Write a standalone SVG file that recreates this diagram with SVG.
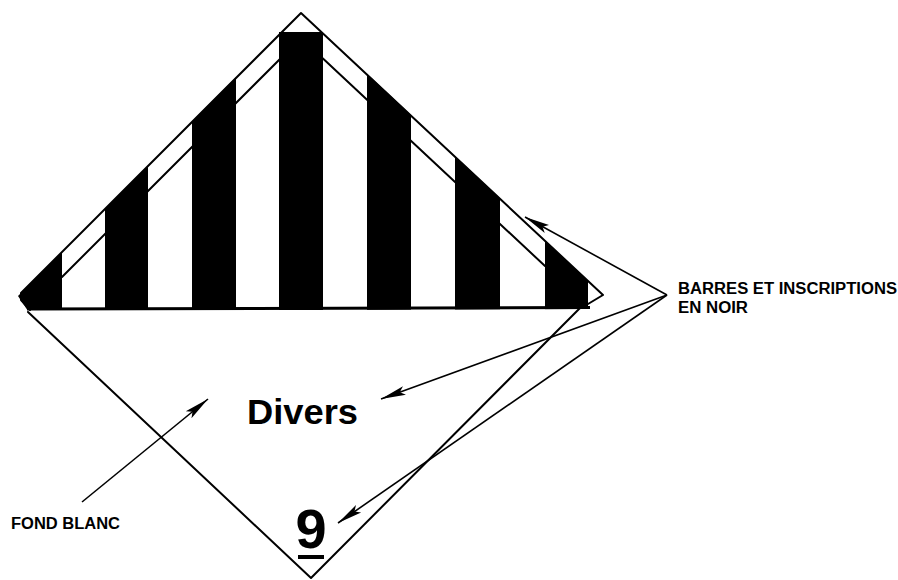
<svg xmlns="http://www.w3.org/2000/svg" width="898" height="580" viewBox="0 0 898 580">
  <style>
    .edge { fill: none; stroke: #000; stroke-width: 2; stroke-linejoin: round; stroke-linecap: round; }
    .bar { fill: #000; }
    .conn { fill: none; stroke: #000; stroke-width: 1.6; }
    .lbl { font-family: "Liberation Sans", Arial, sans-serif; font-weight: bold; fill: #000; }
  </style>
  <defs>
    <marker id="ah" markerUnits="userSpaceOnUse" markerWidth="26" markerHeight="12" viewBox="0 0 26 12" refX="25" refY="6" orient="auto">
      <path d="M0,1.5 L25,6 L0,10.5 L5,6 Z" fill="#000"/>
    </marker>
    <clipPath id="tri">
      <polygon points="18,296 301,12 603,295 588,309 28,311"/>
    </clipPath>
  </defs>
  <rect width="898" height="580" fill="#fff"/>

  <g id="placard">
    <g clip-path="url(#tri)">
      <rect class="bar" x="10" y="0" width="52" height="310"/>
      <rect class="bar" x="105" y="0" width="43" height="310"/>
      <rect class="bar" x="192" y="0" width="44" height="310"/>
      <rect class="bar" x="367" y="0" width="44" height="310"/>
      <rect class="bar" x="455" y="0" width="45" height="310"/>
      <rect class="bar" x="545" y="0" width="43" height="310"/>
    </g>
    <rect class="bar" x="279" y="32" width="44" height="278"/>
    <polyline class="edge" points="62,277 301,38 545,266"/>
    <polyline class="edge" points="30,310 21,300 21,293 301,13 603,295 588,304"/>
    <line x1="27" y1="309" x2="590" y2="307.5" stroke="#000" stroke-width="3"/>
    <polyline class="edge" points="28,312 311,578 581,307"/>
  </g>

  <g id="text-divers">
    <text class="lbl" x="247" y="424" font-size="35" textLength="111" lengthAdjust="spacingAndGlyphs">Divers</text>
  </g>

  <g id="text-9">
    <text class="lbl" x="311" y="548" font-size="56" text-anchor="middle">9</text>
    <rect x="298" y="555" width="26" height="4" fill="#000"/>
  </g>

  <g id="label-barres">
    <text class="lbl" x="678" y="294" font-size="16" textLength="219" lengthAdjust="spacingAndGlyphs">BARRES ET INSCRIPTIONS</text>
    <text class="lbl" x="678" y="313" font-size="16" textLength="70" lengthAdjust="spacingAndGlyphs">EN NOIR</text>
  </g>

  <g id="label-fond">
    <text class="lbl" x="11" y="529" font-size="16" textLength="109" lengthAdjust="spacingAndGlyphs">FOND BLANC</text>
  </g>

  <g id="connectors">
    <line class="conn" x1="667" y1="295" x2="525" y2="217" marker-end="url(#ah)"/>
    <line class="conn" x1="667" y1="295" x2="381" y2="399" marker-end="url(#ah)"/>
    <line class="conn" x1="667" y1="295" x2="338" y2="523" marker-end="url(#ah)"/>
    <line class="conn" x1="82" y1="502" x2="208" y2="399" marker-end="url(#ah)"/>
  </g>
</svg>
